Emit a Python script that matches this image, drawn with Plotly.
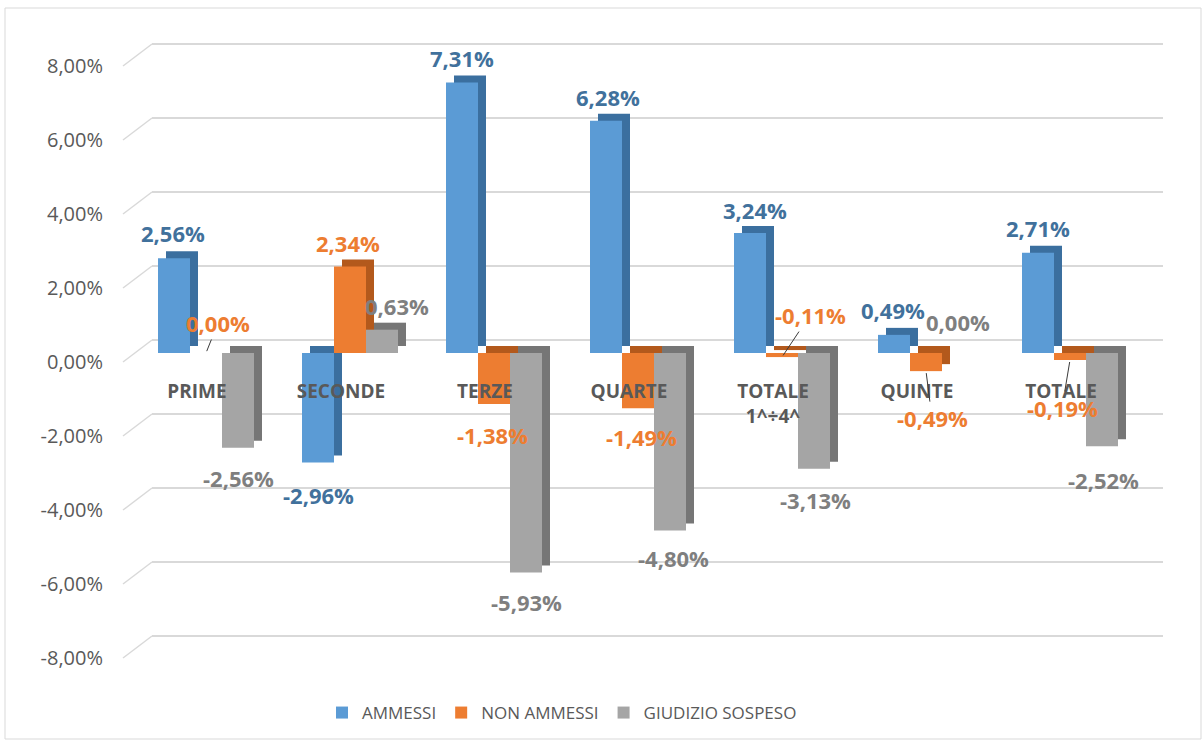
import plotly.graph_objects as go

# ---------------- data ----------------
categories = ["PRIME", "SECONDE", "TERZE", "QUARTE", "TOTALE<br>1^÷4^", "QUINTE", "TOTALE"]
series_names = ["AMMESSI", "NON AMMESSI", "GIUDIZIO SOSPESO"]
ammessi = [2.56, -2.96, 7.31, 6.28, 3.24, 0.49, 2.71]
non_ammessi = [0.00, 2.34, -1.38, -1.49, -0.11, -0.49, -0.19]
giudizio_sospeso = [-2.56, 0.63, -5.93, -4.80, -3.13, 0.00, -2.52]
y_ticks = [-8, -6, -4, -2, 0, 2, 4, 6, 8]

series_values = [ammessi, non_ammessi, giudizio_sospeso]

# ---------------- styles ----------------
FONT = "'Open Sans', Lato, sans-serif"
FRONT = ["#5b9bd5", "#ed7d31", "#a5a5a5"]
SIDE = ["#3b6f9f", "#b3591c", "#767676"]
LABEL_COL = ["#41719c", "#ed7d31", "#7f7f7f"]
TEXT_COL = "#595959"
GRID_COL = "#d9d9d9"

W_FIG, H_FIG = 1204, 744
L, R, T, B = 152, 41, 30, 84
PLOT_W = W_FIG - L - R
PLOT_H = H_FIG - T - B
PX = 144.0   # px per category
PY = 37.0    # px per percentage point
CAT0_PX = 197  # px of first category centre

BAR_W = 32 / PX
OFFS = [-39 / PX, -7 / PX, 25 / PX]
DEPTH_X = 8 / PX
DEPTH_Y = 7 / PY

ZERO_BARS = 353   # px of zero for bars
ZERO_GRID = 340   # px of zero for back-wall grid
ZERO_LBL = 362    # px of zero for front tick labels


def yrange(zero_px):
    return [-(T + PLOT_H - zero_px) / PY, (zero_px - T) / PY]


xrange_ = [(L - CAT0_PX) / PX, (L + PLOT_W - CAT0_PX) / PX]

# label offsets in px (dx, dy; dy positive = down), and leader-line flags
LABEL_OFF = [
    [(-1, -25), (0, 32), (0, -25), (2, -24), (5, -23), (-1, -25), (0, -25)],
    [(12, -30), (-2, -23), (-2, 31), (3, 29), (28, -42), (6, 47), (-8, 48)],
    [(0, 30), (15, -24), (0, 30), (3, 27), (1, 31), (0, -31), (1, 34)],
]
LEADER = [
    [False] * 7,
    [True, False, False, False, True, True, True],
    [False] * 7,
]


def fmt(v):
    return f"{v:.2f}".replace(".", ",") + "%"


idx = list(range(len(categories)))
fig = go.Figure()

# depth (side + top faces)
for s, vals in enumerate(series_values):
    fig.add_trace(go.Bar(
        x=[i + DEPTH_X for i in idx], y=vals, base=DEPTH_Y,
        offset=OFFS[s], width=BAR_W,
        marker=dict(color=SIDE[s], line=dict(width=0)),
        showlegend=False, hoverinfo="skip",
    ))

# front faces
for s, vals in enumerate(series_values):
    fig.add_trace(go.Bar(
        x=idx, y=vals, name=series_names[s],
        offset=OFFS[s], width=BAR_W,
        marker=dict(color=FRONT[s], line=dict(width=0)),
    ))

# empty traces so the grid axis and the tick-label axis are rendered
for ax in ("y2", "y3"):
    fig.add_trace(go.Scatter(x=[None], y=[None], yaxis=ax, mode="markers",
                             showlegend=False, hoverinfo="skip"))

# data labels
annotations = []
for s, vals in enumerate(series_values):
    for i, v in enumerate(vals):
        dx, dy = LABEL_OFF[s][i]
        xc = i + OFFS[s] + BAR_W / 2
        base = dict(x=xc, y=v, xref="x", yref="y", text=fmt(v),
                    font=dict(family=FONT, size=22, color=LABEL_COL[s], weight="bold"))
        if LEADER[s][i]:
            base.update(showarrow=True, ax=dx, ay=dy, arrowhead=0, arrowwidth=1,
                        arrowcolor="#3a3a3a", standoff=2, startstandoff=0)
        else:
            base.update(showarrow=False, xshift=dx, yshift=-dy)
        annotations.append(base)

# shapes: outer border and 3D wall connectors
shapes = [dict(type="rect", xref="paper", yref="paper",
               x0=(5 - L) / PLOT_W, x1=(1201 - L) / PLOT_W,
               y0=(T + PLOT_H - 739) / PLOT_H, y1=(T + PLOT_H - 8) / PLOT_H,
               line=dict(color=GRID_COL, width=1), layer="below")]
for v in y_ticks:
    yf = (T + PLOT_H - (ZERO_LBL - PY * v)) / PLOT_H
    yb = (T + PLOT_H - (ZERO_GRID - PY * v)) / PLOT_H
    shapes.append(dict(type="line", xref="paper", yref="paper",
                       x0=(123 - L) / PLOT_W, x1=0, y0=yf, y1=yb,
                       line=dict(color=GRID_COL, width=1.5), layer="below"))

xaxis_pos = (T + PLOT_H - 378) / PLOT_H

fig.update_layout(
    width=W_FIG, height=H_FIG,
    margin=dict(l=L, r=R, t=T, b=B),
    paper_bgcolor="white", plot_bgcolor="rgba(0,0,0,0)",
    barmode="overlay",
    font=dict(family=FONT, color=TEXT_COL),
    xaxis=dict(range=xrange_, tickvals=idx, ticktext=categories,
               anchor="free", position=xaxis_pos,
               showgrid=False, zeroline=False, showline=False, ticks="",
               tickfont=dict(family=FONT, size=19, color=TEXT_COL, weight="bold")),
    yaxis=dict(range=yrange(ZERO_BARS), visible=False, showgrid=False, zeroline=False),
    yaxis2=dict(range=yrange(ZERO_GRID), overlaying="y", anchor="x",
                tickvals=y_ticks, showticklabels=False, showgrid=True,
                gridcolor=GRID_COL, gridwidth=1.5, zeroline=False, showline=False, ticks=""),
    yaxis3=dict(range=yrange(ZERO_LBL), overlaying="y", anchor="x",
                tickvals=y_ticks, ticktext=[fmt(v) for v in y_ticks],
                showgrid=False, zeroline=False, showline=False, ticks="",
                ticklabelstandoff=48,
                tickfont=dict(family=FONT, size=20, color=TEXT_COL)),
    legend=dict(orientation="h", x=(322 - L) / PLOT_W, xanchor="left",
                y=(T + PLOT_H - 713) / PLOT_H, yanchor="middle",
                font=dict(family=FONT, size=17, color=TEXT_COL),
                itemwidth=30, traceorder="normal"),
    annotations=annotations,
    shapes=shapes,
)

fig.write_html("out.html", config={"displayModeBar": False},
               post_script="document.body.style.margin='0';")
